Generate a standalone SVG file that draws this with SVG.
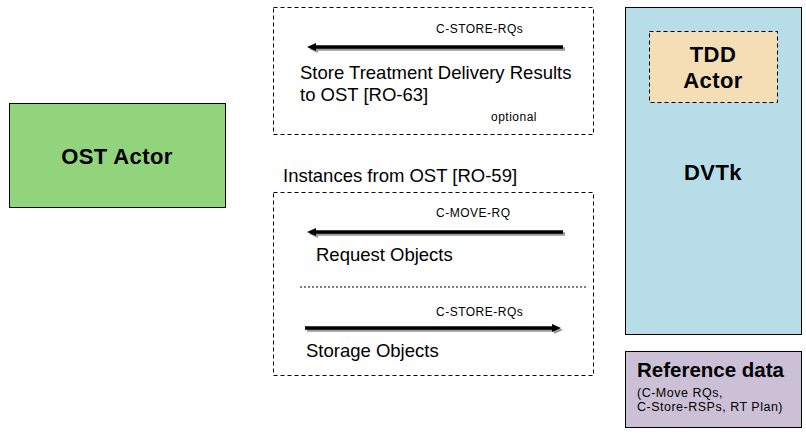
<svg xmlns="http://www.w3.org/2000/svg" width="806" height="433" viewBox="0 0 806 433">
<style>
text{font-family:"Liberation Sans",Arial,sans-serif;fill:#000}
.b{font-weight:bold}
.big{font-size:22px;letter-spacing:0.4px}
.lbl{font-size:18.5px}
.sm{font-size:12px;letter-spacing:0.5px}
.dash{fill:none;stroke:#000;stroke-width:1;stroke-dasharray:4,3}
.sh{stroke:#999;stroke-width:3.5;fill:none}
.ln{stroke:#000;stroke-width:3.5;fill:none}
</style>
<defs>
<marker id="ah" markerWidth="10" markerHeight="10" refX="2" refY="5" orient="auto" markerUnits="userSpaceOnUse">
<path d="M0,1 L9,5 L0,9 Z" fill="#000"/>
</marker>
<marker id="ahs" markerWidth="10" markerHeight="10" refX="2" refY="5" orient="auto" markerUnits="userSpaceOnUse">
<path d="M0,1 L9,5 L0,9 Z" fill="#999"/>
</marker>
</defs>
<rect width="806" height="433" fill="#fff"/>
<g id="ost">
<rect x="9.5" y="103.5" width="216" height="104" fill="#92d47c" stroke="#000"/>
<text class="b big" x="117" y="164" text-anchor="middle">OST Actor</text>
</g>
<g id="ro63">
<rect class="dash" x="273.5" y="7.5" width="320" height="127"/>
<text class="sm" x="436" y="33">C-STORE-RQs</text>
<text class="lbl" x="300" y="79">Store Treatment Delivery Results</text>
<text class="lbl" x="300" y="101">to OST [RO-63]</text>
<text class="sm" x="491" y="121">optional</text>
</g>
<g id="ro59">
<text class="lbl" x="283" y="182">Instances from OST [RO-59]</text>
<rect class="dash" x="273.5" y="192.5" width="320" height="183"/>
<text class="sm" x="436" y="217">C-MOVE-RQ</text>
<text class="lbl" x="316" y="261">Request Objects</text>
<line x1="300" y1="287" x2="586" y2="287" stroke="#000" stroke-width="1" stroke-dasharray="2,2"/>
<text class="sm" x="436" y="316">C-STORE-RQs</text>
<text class="lbl" x="306" y="357">Storage Objects</text>
</g>
<g id="dvtk">
<rect x="625.5" y="7.5" width="176" height="327" fill="#b6dde8" stroke="#000"/>
<text class="b big" x="713" y="180" text-anchor="middle">DVTk</text>
</g>
<g id="tdd">
<rect x="649.5" y="31.5" width="128" height="71" fill="#f5ddb5" stroke="#000" stroke-dasharray="4,3"/>
<text class="b big" x="713" y="62" text-anchor="middle">TDD</text>
<text class="b big" x="713" y="88" text-anchor="middle">Actor</text>
</g>
<g id="refdata">
<rect x="625.5" y="351.5" width="176" height="76" fill="#ccc0d6" stroke="#000"/>
<text class="b" x="637" y="377" font-size="20.5px">Reference data</text>
<text x="637" y="397" font-size="12.5px" letter-spacing="0.5px">(C-Move RQs,</text>
<text x="637" y="411" font-size="12.5px" letter-spacing="0.5px">C-Store-RSPs, RT Plan)</text>
</g>
<g id="connectors">
<line class="sh" x1="565" y1="49" x2="316" y2="49" marker-end="url(#ahs)"/>
<line class="ln" x1="563" y1="47" x2="314" y2="47" marker-end="url(#ah)"/>
<line class="sh" x1="565" y1="234" x2="316" y2="234" marker-end="url(#ahs)"/>
<line class="ln" x1="563" y1="232" x2="314" y2="232" marker-end="url(#ah)"/>
<line class="sh" x1="307" y1="330" x2="556" y2="330" marker-end="url(#ahs)"/>
<line class="ln" x1="305" y1="328" x2="554" y2="328" marker-end="url(#ah)"/>
</g>
</svg>
